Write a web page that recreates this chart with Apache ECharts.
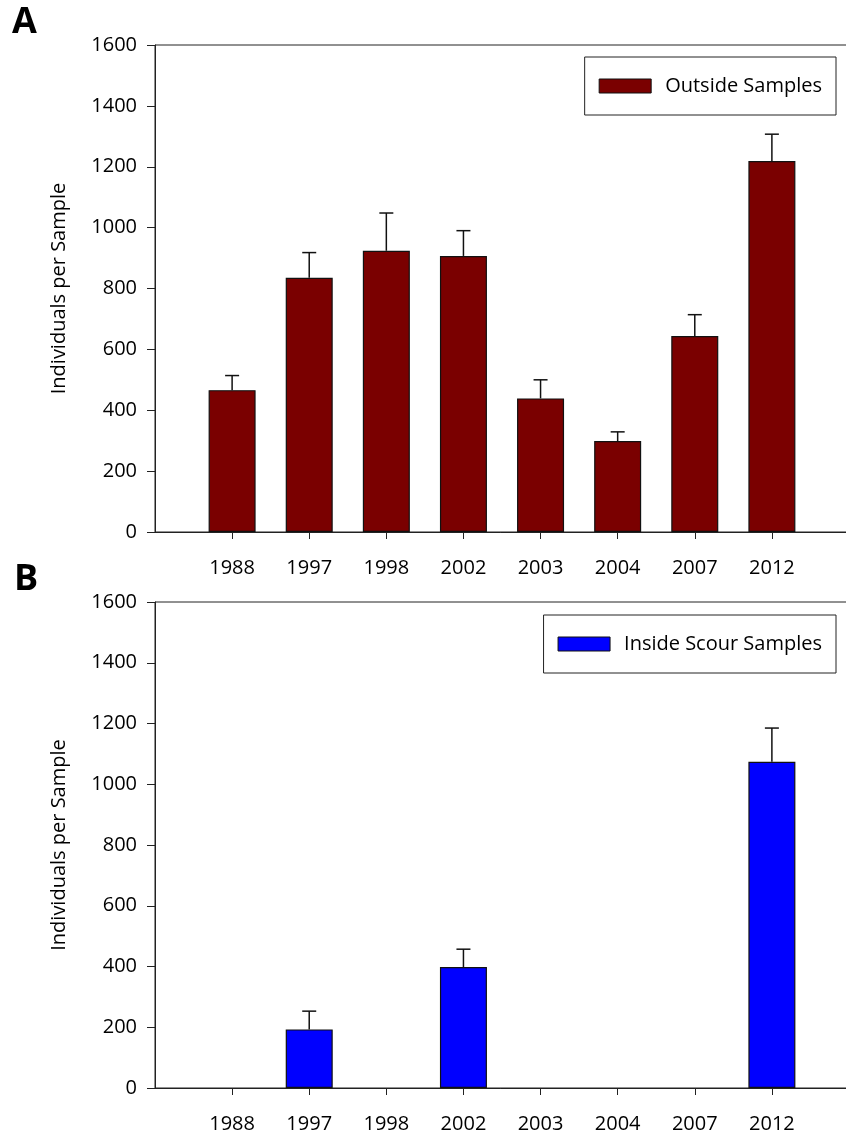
<!DOCTYPE html>
<html>
<head>
<meta charset="utf-8">
<script src="https://cdn.jsdelivr.net/npm/echarts@6/dist/echarts.min.js"></script>
<style>
html,body{margin:0;padding:0;background:#fff;}
#chart{width:846px;height:1137px;}
</style>
</head>
<body>
<div id="chart"></div>
<script>
// ---- data ----
const years = ['1988', '1997', '1998', '2002', '2003', '2004', '2007', '2012'];
const outsideMean = [466, 835, 924, 907, 439, 299, 644, 1219];
const outsideErr  = [48, 83, 124, 83, 61, 30, 70, 88];
const insideMean  = [null, 193, null, 398, null, null, null, 1074];
const insideErr   = [null, 60, null, 59, null, null, null, 111];
const yTickValues = [0, 200, 400, 600, 800, 1000, 1200, 1400, 1600];

// ---- build ----
const FONT = 'Open Sans';
const axisCats = [''].concat(years, ['']);
const pad = arr => [null].concat(arr, [null]);

function errData(means, errs) {
  const out = [];
  means.forEach((m, i) => { if (m != null && errs[i] != null) out.push([i + 1, m, errs[i]]); });
  return out;
}
function renderErr(params, api) {
  const i = api.value(0), m = api.value(1), e = api.value(2);
  const p0 = api.coord([i, m]);
  const p1 = api.coord([i, m + e]);
  const hw = 7;
  const st = { stroke: '#111', lineWidth: 1.5 };
  return {
    type: 'group',
    children: [
      { type: 'line', shape: { x1: p0[0], y1: p0[1], x2: p1[0], y2: p1[1] }, style: st },
      { type: 'line', shape: { x1: p1[0] - hw, y1: p1[1], x2: p1[0] + hw, y2: p1[1] }, style: st }
    ]
  };
}

const yMin = yTickValues[0], yMax = yTickValues[yTickValues.length - 1];
const yInt = yTickValues[1] - yTickValues[0];

function xAxisCfg(gi) {
  return {
    type: 'category', gridIndex: gi, data: axisCats, boundaryGap: false,
    axisLine: { lineStyle: { color: '#222', width: 1 } },
    axisTick: { show: true, length: 7, lineStyle: { color: '#222' },
      interval: (idx) => idx > 0 && idx < axisCats.length - 1 },
    axisLabel: { interval: 0, margin: 26, fontFamily: FONT, fontSize: 20, color: '#000' },
    splitLine: { show: false }
  };
}
function yAxisCfg(gi) {
  return {
    type: 'value', gridIndex: gi, min: yMin, max: yMax, interval: yInt,
    name: 'Individuals per Sample', nameLocation: 'middle', nameGap: 86,
    nameTextStyle: { fontFamily: FONT, fontSize: 20, color: '#000' },
    axisLine: { show: true, lineStyle: { color: '#222', width: 1 } },
    axisTick: { show: true, length: 8, lineStyle: { color: '#222' } },
    axisLabel: { margin: 18, fontFamily: FONT, fontSize: 20, color: '#000',
      formatter: v => String(v) },
    splitLine: { show: false }
  };
}
function legendCfg(name, top) {
  return {
    data: [{ name: name, icon: 'rect' }], right: 10, top: top, orient: 'horizontal',
    backgroundColor: '#fff', borderColor: '#222', borderWidth: 1,
    padding: [19, 14, 19, 14], itemWidth: 52, itemHeight: 14,
    selectedMode: false,
    itemStyle: { borderColor: '#111', borderWidth: 1 },
    textStyle: { fontFamily: FONT, fontSize: 20, color: '#000', padding: [0, 0, 0, 9] }
  };
}

const chart = echarts.init(document.getElementById('chart'), null, { renderer: 'canvas' });
chart.setOption({
  backgroundColor: '#fff',
  animation: false,
  title: [
    { text: 'A', left: 7, top: 0, textStyle: { fontFamily: FONT, fontSize: 36, fontWeight: 'bold', color: '#000' } },
    { text: 'B', left: 9, top: 557, textStyle: { fontFamily: FONT, fontSize: 36, fontWeight: 'bold', color: '#000' } }
  ],
  grid: [
    { left: 155, width: 694, top: 45, height: 487, outerBoundsMode: 'none', containLabel: false,
      show: true, borderColor: '#222', borderWidth: 1, backgroundColor: 'transparent' },
    { left: 155, width: 694, top: 602, height: 486, outerBoundsMode: 'none', containLabel: false,
      show: true, borderColor: '#222', borderWidth: 1, backgroundColor: 'transparent' }
  ],
  xAxis: [xAxisCfg(0), xAxisCfg(1)],
  yAxis: [yAxisCfg(0), yAxisCfg(1)],
  legend: [legendCfg('Outside Samples', 57), legendCfg('Inside Scour Samples', 615)],
  series: [
    {
      name: 'Outside Samples', type: 'bar', xAxisIndex: 0, yAxisIndex: 0,
      data: pad(outsideMean), barWidth: 47,
      itemStyle: { color: '#7a0000', borderColor: '#111', borderWidth: 1.2 }
    },
    {
      name: 'Outside err', type: 'custom', xAxisIndex: 0, yAxisIndex: 0,
      data: errData(outsideMean, outsideErr), renderItem: renderErr, z: 3
    },
    {
      name: 'Inside Scour Samples', type: 'bar', xAxisIndex: 1, yAxisIndex: 1,
      data: pad(insideMean), barWidth: 47,
      itemStyle: { color: '#0000ff', borderColor: '#111', borderWidth: 1.2 }
    },
    {
      name: 'Inside err', type: 'custom', xAxisIndex: 1, yAxisIndex: 1,
      data: errData(insideMean, insideErr), renderItem: renderErr, z: 3
    }
  ]
});
</script>
</body>
</html>
